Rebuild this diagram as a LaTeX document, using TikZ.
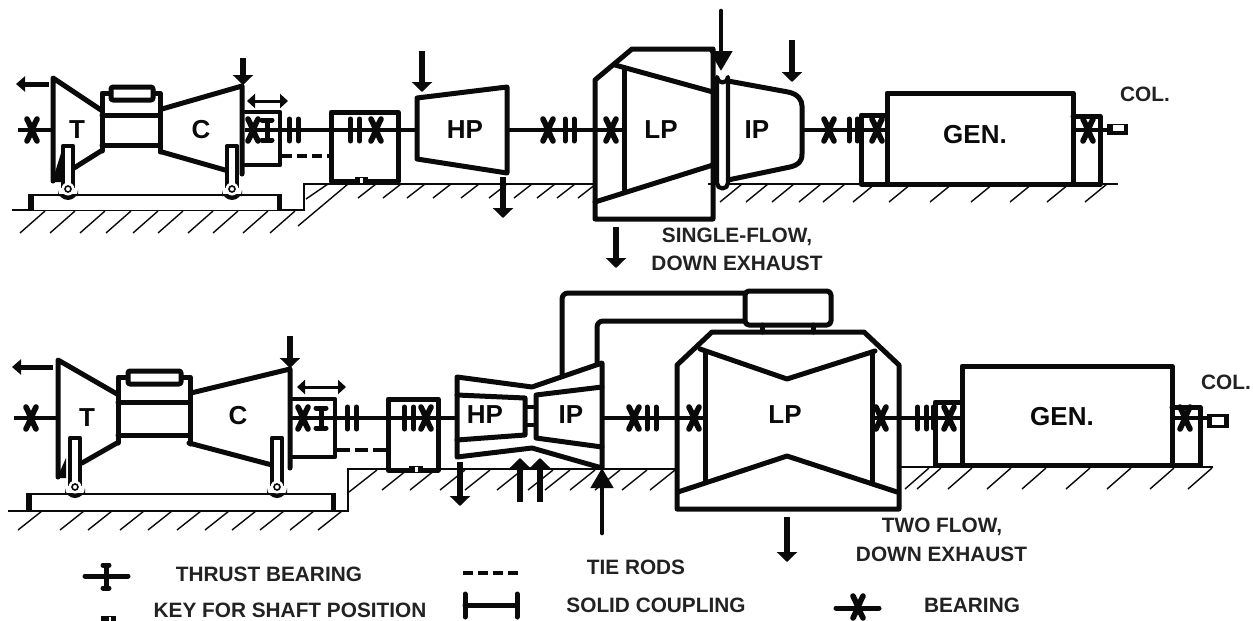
\documentclass[tikz,border=0pt]{standalone}
\usepackage{fontspec}
\setmainfont{Liberation Sans}
\usetikzlibrary{arrows.meta}
\definecolor{ink}{HTML}{0A0A0A}
\definecolor{txt}{HTML}{222222}
\tikzset{
  x=1pt,y=-1pt,
  hv/.style={draw=ink,line width=5pt,line join=round,line cap=round},
  md/.style={draw=ink,line width=4.2pt,line join=round,line cap=round},
  thin/.style={draw=ink,line width=1.4pt},
  shaft/.style={draw=ink,line width=4.4pt},
  arr/.style={draw=ink,line width=6.4pt,-{Triangle[length=10pt,width=20pt]}},
  arrs/.style={draw=ink,line width=5pt,-{Triangle[length=9pt,width=15pt]}},
  arrthin/.style={draw=ink,line width=4.6pt,line cap=round,-{Triangle[length=20pt,width=22pt]}},
  dbl/.style={draw=ink,line width=3pt,{Triangle[length=8pt,width=14pt]}-{Triangle[length=8pt,width=14pt]}},
  lbl/.style={font=\fontsize{20.8pt}{23pt}\selectfont\bfseries,text=txt,inner sep=0pt},
  big/.style={font=\fontsize{26pt}{28pt}\selectfont\bfseries,text=ink,inner sep=0pt},
  bearing/.pic={
    \draw[draw=ink,line width=5.6pt,line cap=round] (-5,-11) .. controls (-1,-3) and (1,3) .. (5,11);
    \draw[draw=ink,line width=5.6pt,line cap=round] (5,-11) .. controls (1,-3) and (-1,3) .. (-5,11);
  },
  thrust/.pic={
    \draw[draw=ink,line width=5pt] (0,-9)--(0,9);
    \draw[draw=ink,line width=5pt,line cap=round] (-5,-10)--(5,-10) (-5,10)--(5,10);
  },
  coupling/.pic={
    \draw[hv] (-4.5,-11)--(-4.5,11) (4.5,-11)--(4.5,11);
  },
  hatch/.style={draw=ink,line width=1.4pt}
}
% pillar: x, top y, bottom y
\newcommand{\mysupport}[3]{%
  \fill[white] (#1-6,#2) rectangle (#1+6,#3-8);
  \fill[ink] (#1-10,#3) -- (#1-10,#3-6) arc[start angle=180,end angle=0,radius=10] -- (#1+10,#3) -- cycle;
  \draw[draw=ink,line width=4.8pt,line join=round] (#1-5,#3-8)--(#1-5,#2+1)--(#1+5,#2+1)--(#1+5,#3-8);
  \fill[white] (#1,#3-7) circle[radius=6.5];
  \draw[ink,line width=1.6pt] (#1,#3-7) circle[radius=3];
}
\begin{document}
\begin{tikzpicture}
\useasboundingbox (0,0) rectangle (1253,621);
\fill[white] (0,0) rectangle (1253,621);

%% ---------- TOP TRAIN ----------
\draw[thin] (12,210)--(304,210)--(304,184)--(594,184);
\draw[thin] (708,184)--(1118,184);
\foreach \h in {20,50,80,106,133,158,188,213,243,270}
  \draw[hatch] (\h,233)--(\h+25,211);
\draw[hatch] (306,199)--(328,184);
\draw[hatch] (298,226)--(348,184);
\foreach \h in {358,383,407,433,461,489,514,537,557,578}
  \draw[hatch] (\h,198)--(\h+18,184);
\foreach \h in {720,746,772,799,823,853,889,930,971,1010,1047,1085}
  \draw[hatch] (\h,202)--(\h+22,184);
% base
\fill[white] (28,195) rectangle (282,210);
\draw[thin] (28,195)--(282,195);
\fill[ink] (28,195) rectangle (34,210);
\fill[ink] (277,195) rectangle (282,210);
% shafts
\draw[shaft] (18,130)--(53,130);
\draw[shaft] (245,130)--(417,130);
\draw[shaft] (507,130)--(624,130);
\draw[shaft] (802,130)--(887,130);
\draw[shaft] (1073,130)--(1107,130);
% T, casing, C
\draw[hv] (101,110)--(53,78)--(53,181);
\draw[hv] (101,151)--(74,168);
\fill[ink] (52,182)--(62,150)--(62,182)--cycle;
\draw[hv] (102,151)--(102,93)--(160,93)--(160,152);
\draw[hv] (102,115)--(160,115) (102,145)--(160,145);
\draw[hv,fill=white,rounded corners=2pt] (111,87) rectangle (153,100);
\draw[hv] (162,109)--(242,86)--(242,174);
\draw[hv] (162,152)--(232,172);
\node[big] (t1) at (77,130) {T};
\node[big] (c1) at (201,130) {C};
% boxes
\draw[md] (245,112)--(280,112)--(280,165)--(245,165);
\draw[hv] (331,181)--(331,112)--(398,112)--(398,181)--cycle;
\fill[ink] (355,177) rectangle (368,183);
\fill[white] (360,178) rectangle (363,183);
\draw[md,dash pattern=on 10pt off 5pt,line cap=butt] (282,156)--(330,156);
\pic at (32,130) {bearing};
\pic at (253,130) {bearing};
\pic at (267,130) {thrust};
\pic at (294,130) {coupling};
\pic at (355,130) {coupling};
\pic at (376,130) {bearing};
\mysupport{68}{145}{196}
\mysupport{232}{145}{196}
\draw[arr] (243,58)--(243,85);
\draw[arrs] (49,84)--(16,84);
\draw[dbl] (247,101)--(288,101);
% HP
\draw[hv] (417,98)--(507,87)--(507,173)--(417,159)--cycle;
\node[big] (hp1) at (465,130) {HP};
\draw[arr] (422,51)--(422,92);
\draw[arr] (503,177)--(503,218);
\pic at (548,130) {bearing};
\pic at (569.5,130) {coupling};
% LP
\draw[hv] (595,80)--(632,49)--(713,49)--(713,219)--(595,219)--cycle;
\draw[hv] (615,65)--(713,92);
\draw[hv] (595,202)--(713,165);
\draw[hv] (624,68)--(624,192);
\pic at (611,130) {bearing};
\node[big] (lp1) at (661,130) {LP};
\draw[arr] (616,227)--(616,268);
% IP with slim element
\draw[md] (713,84)--(717,84) (713,173)--(717,173);
\draw[hv] (728,81)--(788,92) .. controls (798,94) and (802,100) .. (802,106) -- (802,154) .. controls (802,162) and (798,165) .. (790,167) -- (728,180);
\draw[md,fill=white] (717,77) arc[start angle=180,end angle=0,radius=5.5] -- (728,183) arc[start angle=0,end angle=180,radius=5.5] -- cycle;
\node[big] (ip1) at (757,130) {IP};
\draw[arrthin] (721,11)--(721,71);
\draw[arr] (792,40)--(792,82);
\pic at (829,130) {bearing};
\draw[hv] (849,119)--(849,141) (857,119)--(857,141);
% GEN
\draw[hv] (887,93)--(1073,93)--(1073,184)--(887,184)--cycle;
\draw[hv] (887,115)--(861,115)--(861,184)--(887,184);
\draw[hv] (1073,116)--(1100,116)--(1100,184)--(1073,184);
\pic at (877,130) {bearing};
\pic at (1088,130) {bearing};
\node[big] (gen1) at (975,135) {GEN.};
\fill[ink] (1107,124) rectangle (1128,135);
\fill[white] (1113,125) rectangle (1124,131);
\node[lbl] (col1) at (1145,94) {COL.};
\node[lbl] (sf1) at (737,237) {SINGLE-FLOW,};
\node[lbl] (sf2) at (737,263) {DOWN EXHAUST};

%% ---------- BOTTOM TRAIN ----------
\draw[thin] (8,511)--(348,511)--(348,469)--(678,469);
\draw[thin] (897,467)--(1213,467);
\foreach \h in {18,60,88,120,148,177,205,232,260,290,318}
  \draw[hatch] (\h,530)--(\h+24,511);
\draw[hatch] (349,492)--(377,470);
\foreach \h in {382,410,440,465,497,528,545,570,595,622,650}
  \draw[hatch] (\h,490)--(\h+25,470);
\foreach \h in {905,917,948,987,1022,1066,1107,1150,1188}
  \draw[hatch] (\h,489)--(\h+24,468);
% base
\fill[white] (26,494) rectangle (336,510);
\draw[thin] (26,494)--(336,494);
\fill[ink] (26,494) rectangle (32,510);
\fill[ink] (331,494) rectangle (336,510);
% shafts
\draw[shaft] (14,418)--(57,418);
\draw[shaft] (292,418)--(457,418);
\draw[shaft] (602,418)--(705,418);
\draw[shaft] (872,418)--(962,418);
\draw[shaft] (1172,418)--(1207,418);
% T, casing, C
\draw[hv] (117,394)--(58,360)--(58,477);
\draw[hv] (117,443)--(82,463);
\fill[ink] (57,478)--(66,458)--(66,478)--cycle;
\draw[hv] (118,443)--(118,377)--(190,377)--(190,444);
\draw[hv] (118,402)--(190,402) (118,435)--(190,435);
\draw[hv,fill=white,rounded corners=2pt] (128,371) rectangle (181,384);
\draw[hv] (191,393)--(290,369)--(290,468);
\draw[hv] (189,443)--(272,465);
\node[big] (t2) at (87,418) {T};
\node[big] (c2) at (238,416) {C};
\draw[md] (292,399)--(335,399)--(335,457)--(292,457);
\draw[hv] (388,470)--(388,399)--(438,399)--(438,470)--cycle;
\draw[md,dash pattern=on 13pt off 5pt,line cap=butt] (337,450)--(387,450);
\fill[ink] (409,466) rectangle (423,472);
\fill[white] (415,467) rectangle (418,472);
\pic at (31,418) {bearing};
\pic at (303,418) {bearing};
\pic at (321,418) {thrust};
\pic at (352,418) {coupling};
\pic at (409,418) {coupling};
\pic at (426,418) {bearing};
\mysupport{75}{437}{494}
\mysupport{277}{437}{494}
\draw[arr] (290,336)--(290,368);
\draw[arrs] (53,367)--(12,367);
\draw[dbl] (297,387)--(346,387);
% HP / IP
\draw[hv] (457,377)--(532,387)--(602,363)--(602,468)--(532,448)--(457,457)--cycle;
\draw[hv] (457,395)--(525,398)--(525,435)--(457,440);
\draw[hv] (602,387)--(536,395)--(536,438)--(602,447);
\draw[md] (525,407)--(536,407) (525,425)--(536,425);
\node[big] (hp2) at (485,415) {HP};
\node[big] (ip2) at (571,415) {IP};
\draw[arr] (460,462)--(460,506);
\draw[arr] (520,502)--(520,458);
\draw[arr] (540,502)--(540,458);
\draw[arrthin] (602,533)--(602,468);
% pipes
\draw[hv,rounded corners=6pt] (562,374)--(562,293)--(745,293);
\draw[hv,rounded corners=6pt] (597,364)--(597,321)--(745,321);
\draw[hv,rounded corners=4pt] (745,291) rectangle (831,325);
\draw[hv] (762,325)--(762,332) (813,325)--(813,332);
% LP
\draw[hv] (677,365)--(712,332)--(864,332)--(899,365)--(899,509)--(677,509)--cycle;
\draw[hv] (700,349)--(787,379)--(875,351);
\draw[hv] (678,492)--(787,456)--(897,492);
\draw[hv] (705,352)--(705,482);
\draw[hv] (872,352)--(872,482);
\node[big] (lp2) at (785,415) {LP};
\draw[arr] (787,517)--(787,562);
\pic at (634,418) {bearing};
\pic at (651.5,418) {coupling};
\pic at (694,418) {bearing};
\pic at (881,418) {bearing};
\pic at (922,418) {coupling};
\draw[hv] (933,407)--(933,428);
% GEN
\draw[hv] (962,366)--(1172,366)--(1172,465)--(962,465)--cycle;
\draw[hv] (962,402)--(935,402)--(935,465)--(962,465);
\draw[hv] (1172,407)--(1200,407)--(1200,465)--(1172,465);
\pic at (949,418) {bearing};
\pic at (1185,418) {bearing};
\node[big] (gen2) at (1062,417) {GEN.};
\fill[ink] (1207,414) rectangle (1229,428);
\fill[white] (1212,417) rectangle (1224,425);
\node[lbl] (col2) at (1226,382) {COL.};
\node[lbl] (tf1) at (942,527) {TWO FLOW,};
\node[lbl] (tf2) at (941.5,554) {DOWN EXHAUST};

%% ---------- LEGEND ----------
\draw[hv] (85,576)--(128,576);
\draw[draw=ink,line width=5pt] (106,565)--(106,588);
\draw[hv] (103,565)--(109,565) (103,588)--(109,588);
\node[lbl] (leg1) at (269,574) {THRUST BEARING};
\draw[md,dash pattern=on 10pt off 5pt,line cap=butt] (463,573)--(518,573);
\node[lbl] (leg2) at (636,567) {TIE RODS};
\draw[hv] (465,605)--(517,605);
\draw[hv] (465,594)--(465,617) (517,594)--(517,617);
\node[lbl] (leg3) at (656,605) {SOLID COUPLING};
\node[lbl] (leg4) at (290,610) {KEY FOR SHAFT POSITION};
\fill[ink] (101,616) rectangle (116,621);
\fill[white] (108.5,617) rectangle (110.5,621);
\draw[hv] (836,608)--(879,608);
\pic at (858,607) {bearing};
\node[lbl] (leg5) at (972,605) {BEARING};
\end{tikzpicture}
\end{document}
